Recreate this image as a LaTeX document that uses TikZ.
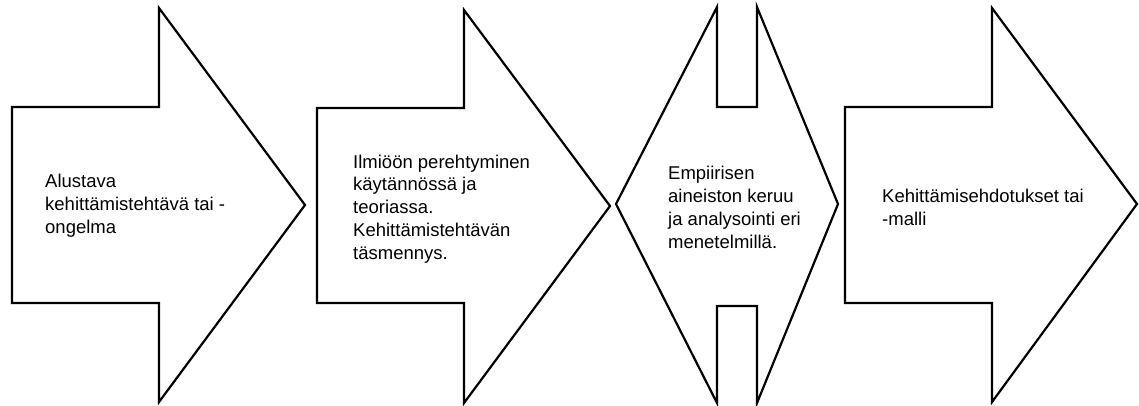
\documentclass[tikz,border=0pt]{standalone}
\usepackage{fontspec}
\setmainfont{Liberation Sans}
\begin{document}
\begin{tikzpicture}[x=1pt,y=-1pt,
  shapeline/.style={draw=black,line width=2.2pt,line join=miter,fill=white},
  txt/.style={anchor=base west,align=left,inner sep=0pt,
    font=\fontsize{18.5}{22.7}\selectfont}]
\useasboundingbox (0,0) rectangle (1139,405);
% arrow 1
\draw[shapeline] (12,107) -- (159,107) -- (159,8) -- (305,205) -- (159,402) -- (159,303) -- (12,303) -- cycle;
% arrow 2
\draw[shapeline] (317,108) -- (464,108) -- (464,10) -- (610,206) -- (464,403) -- (464,303) -- (317,303) -- cycle;
% double-notched diamond
\draw[shapeline] (616,204) -- (717,7) -- (717,107) -- (757,107) -- (757,7) -- (838,204) -- (757,403) -- (757,306) -- (717,306) -- (717,403) -- cycle;
% arrow 4
\draw[shapeline] (845,107) -- (992,107) -- (992,8) -- (1137,204) -- (992,402) -- (992,303) -- (845,303) -- cycle;
% texts (anchored at the baseline of the last line)
\node[txt] (t1) at (45,233) {Alustava\\kehittämistehtävä tai -\\ongelma};
\node[txt] (t2) at (353,259) {Ilmiöön perehtyminen\\käytännössä ja\\teoriassa.\\Kehittämistehtävän\\täsmennys.};
\node[txt] (t3) at (668,248) {Empiirisen\\aineiston keruu\\ja analysointi eri\\menetelmillä.};
\node[txt] (t4) at (882,225) {Kehittämisehdotukset tai\\-malli};
\end{tikzpicture}
\end{document}
